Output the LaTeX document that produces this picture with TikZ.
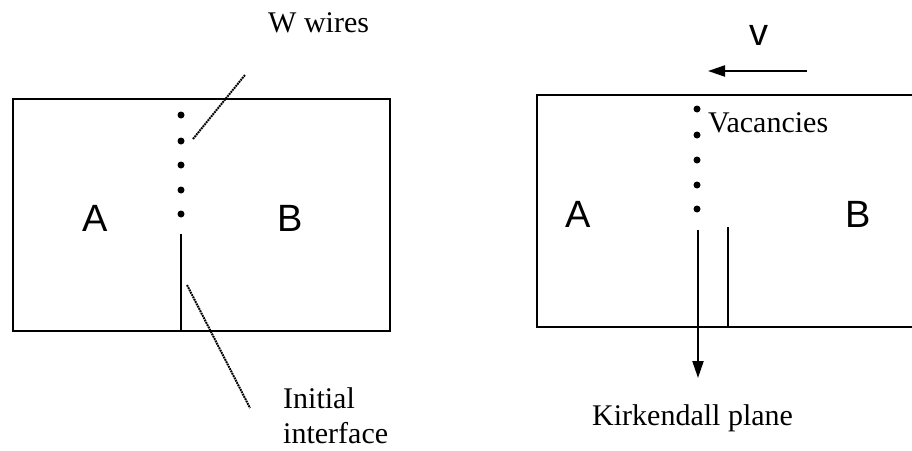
\documentclass[tikz,border=0pt]{standalone}
\usepackage{fontspec}
\setmainfont{Liberation Serif}
\newfontfamily\sansA{Liberation Sans}
\usetikzlibrary{arrows.meta}
\begin{document}
\begin{tikzpicture}[x=1pt,y=-1pt,
  box/.style={line width=2.7pt},
  wire/.style={line width=2.1pt},
  dotm/.style={circle,fill,inner sep=0pt,minimum size=7pt},
  leader/.style={line width=2pt,dash pattern=on 1.8pt off 0.8pt},
  lbl/.style={font=\fontsize{30}{35}\selectfont,inner sep=0pt,anchor=base west},
  letter/.style={font=\sansA\fontsize{38}{40}\selectfont,inner sep=0pt},
  arr/.style={line width=2.1pt,-{Triangle[length=17pt,width=11pt]}}]
\useasboundingbox (0,0) rectangle (912,450);
% boxes
\draw[box] (13,99) rectangle (390,331);
\draw[box] (537,95) rectangle (935,327);
% letters
\node[letter] (A1) at (95,218) {A};
\node[letter] (B1) at (290,218) {B};
\node[letter] (A2) at (578,214) {A};
\node[letter] (B2) at (858,214) {B};
% left dots (W wires)
\foreach \i/\y in {1/115,2/141,3/165,4/190,5/214} \node[dotm] (wl\i) at (181,\y) {};
% right dots (vacancies)
\foreach \i/\y in {1/109,2/135,3/160,4/185,5/209} \node[dotm] (wr\i) at (697,\y) {};
% left initial interface
\coordinate (ia) at (181,234);
\coordinate (ib) at (181,331);
\draw[wire] (ia) -- (ib);
% right: Kirkendall plane arrow and initial interface
\coordinate (ka) at (698,230);
\coordinate (kb) at (698,378);
\draw[arr] (ka) -- (kb);
\coordinate (ja) at (728,227);
\coordinate (jb) at (728,327);
\draw[wire] (ja) -- (jb);
% velocity arrow
\coordinate (va) at (807,71);
\coordinate (vb) at (708,71);
\draw[arr] (va) -- (vb);
\node[font=\sansA\fontsize{38}{40}\selectfont,inner sep=0pt,anchor=base] (v) at (759,45) {v};
% leaders
\coordinate (l1a) at (193,139);
\coordinate (l1b) at (245,75);
\draw[leader] (l1a) -- (l1b);
\coordinate (l2a) at (187,285);
\coordinate (l2b) at (250,408);
\draw[leader] (l2a) -- (l2b);
% labels
\node[lbl] (ww) at (268,32) {W wires};
\node[lbl] (ii) at (283,408) {Initial};
\node[lbl] (if) at (283,443) {interface};
\node[lbl] (vac) at (708,132) {Vacancies};
\node[lbl] (kp) at (592,425) {Kirkendall plane};
\end{tikzpicture}
\end{document}
